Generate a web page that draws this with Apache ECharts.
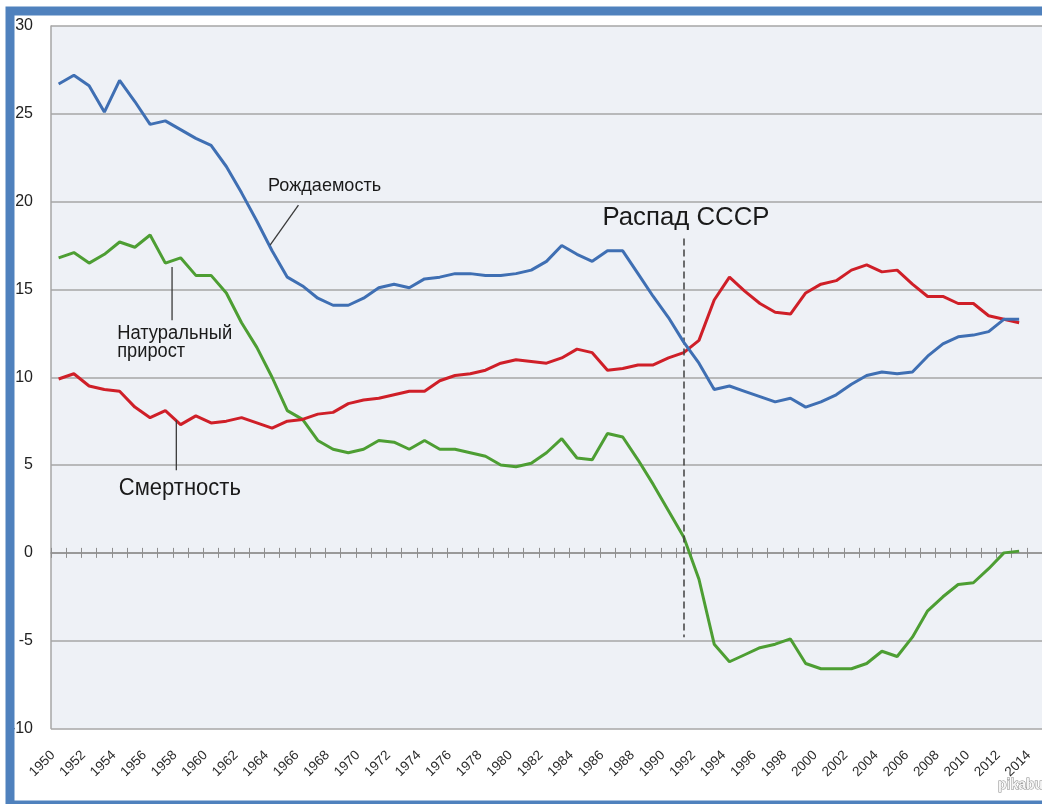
<!DOCTYPE html>
<html><head><meta charset="utf-8">
<script src="https://cdn.jsdelivr.net/npm/echarts@6/dist/echarts.min.js"></script>
<style>html,body{margin:0;padding:0;background:#fff;overflow:hidden}#main{width:1042px;height:804px}</style>
</head><body><div id="main"></div>
<script>
// ---- data ----
const years = ['1950','1951','1952','1953','1954','1955','1956','1957','1958','1959',
  '1960','1961','1962','1963','1964','1965','1966','1967','1968','1969',
  '1970','1971','1972','1973','1974','1975','1976','1977','1978','1979',
  '1980','1981','1982','1983','1984','1985','1986','1987','1988','1989',
  '1990','1991','1992','1993','1994','1995','1996','1997','1998','1999',
  '2000','2001','2002','2003','2004','2005','2006','2007','2008','2009',
  '2010','2011','2012','2013','2014'];
const birthRate = [26.7,27.2,26.6,25.1,26.9,25.7,24.4,24.6,24.1,23.6,
  23.2,22.0,20.5,18.9,17.2,15.7,15.2,14.5,14.1,14.1,
  14.5,15.1,15.3,15.1,15.6,15.7,15.9,15.9,15.8,15.8,
  15.9,16.1,16.6,17.5,17.0,16.6,17.2,17.2,15.9,14.6,
  13.4,12.0,10.8,9.3,9.5,9.2,8.9,8.6,8.8,8.3,
  8.6,9.0,9.6,10.1,10.3,10.2,10.3,11.2,11.9,12.3,
  12.4,12.6,13.3,13.3,null];
const deathRate = [9.9,10.2,9.5,9.3,9.2,8.3,7.7,8.1,7.3,7.8,
  7.4,7.5,7.7,7.4,7.1,7.5,7.6,7.9,8.0,8.5,
  8.7,8.8,9.0,9.2,9.2,9.8,10.1,10.2,10.4,10.8,
  11.0,10.9,10.8,11.1,11.6,11.4,10.4,10.5,10.7,10.7,
  11.1,11.4,12.1,14.4,15.7,14.9,14.2,13.7,13.6,14.8,
  15.3,15.5,16.1,16.4,16.0,16.1,15.3,14.6,14.6,14.2,
  14.2,13.5,13.3,13.1,null];
const naturalIncrease = [16.8,17.1,16.5,17.0,17.7,17.4,18.1,16.5,16.8,15.8,
  15.8,14.8,13.1,11.7,10.0,8.1,7.6,6.4,5.9,5.7,
  5.9,6.4,6.3,5.9,6.4,5.9,5.9,5.7,5.5,5.0,
  4.9,5.1,5.7,6.5,5.4,5.3,6.8,6.6,5.3,3.9,
  2.4,0.9,-1.5,-5.2,-6.2,-5.8,-5.4,-5.2,-4.9,-6.3,
  -6.6,-6.6,-6.6,-6.3,-5.6,-5.9,-4.8,-3.3,-2.5,-1.8,
  -1.7,-0.9,0.0,0.1,null];
const yMin = -10, yMax = 30, yStep = 5;
const collapseYear = '1991';
const collapseRange = [17.9, -4.8];

// ---- chart ----
const FONT = '"Liberation Sans", Arial, sans-serif';
const GRID_COLOR = '#a6a6a6';
const chart = echarts.init(document.getElementById('main'), null, {renderer: 'canvas'});

const option = {
  animation: false,
  backgroundColor: '#ffffff',
  grid: {left: 51, right: -2, top: 26, bottom: 75.5, show: true, backgroundColor: '#eef1f6', borderWidth: 0},
  xAxis: [
    {type: 'category', data: years, boundaryGap: true, position: 'bottom',
     axisLine: {show: false, onZero: false}, axisTick: {show: false},
     axisLabel: {interval: 1, rotate: 45, margin: 19, padding: [0, 8, 0, 0], fontSize: 13.5, color: '#2b2b2b', fontFamily: FONT},
     splitLine: {show: false}},
    {type: 'category', data: years, boundaryGap: true, position: 'bottom',
     axisLine: {show: true, onZero: true, onZeroAxisIndex: 0, lineStyle: {color: '#8e8e8e', width: 1.5}},
     axisTick: {show: true, inside: true, length: 5, interval: 0, lineStyle: {color: '#8e8e8e', width: 1}},
     axisLabel: {show: false}, splitLine: {show: false}},
    {type: 'category', data: years, boundaryGap: true, position: 'bottom',
     axisLine: {show: false, onZero: true, onZeroAxisIndex: 0},
     axisTick: {show: true, inside: false, length: 5, interval: 0, lineStyle: {color: '#8e8e8e', width: 1}},
     axisLabel: {show: false}, splitLine: {show: false}}
  ],
  yAxis: {
    type: 'value', min: yMin, max: yMax, interval: yStep,
    axisLine: {show: true, lineStyle: {color: GRID_COLOR, width: 1.5}},
    axisTick: {show: false},
    axisLabel: {margin: 18, fontSize: 16, color: '#222', fontFamily: FONT},
    splitLine: {show: true, lineStyle: {color: GRID_COLOR, width: 1.5}}
  },
  series: [
    {name: 'Натуральный прирост', type: 'line', data: naturalIncrease, symbol: 'none',
     lineStyle: {color: '#4d9e33', width: 3}, itemStyle: {color: '#4d9e33'}, z: 3,
     markLine: {silent: true, symbol: ['none', 'none'], label: {show: false},
       lineStyle: {type: [7, 4], color: '#404040', width: 1.5},
       data: [[{coord: [collapseYear, collapseRange[0]]}, {coord: [collapseYear, collapseRange[1]]}]]}},
    {name: 'Смертность', type: 'line', data: deathRate, symbol: 'none',
     lineStyle: {color: '#cf1f28', width: 3}, itemStyle: {color: '#cf1f28'}, z: 4},
    {name: 'Рождаемость', type: 'line', data: birthRate, symbol: 'none',
     lineStyle: {color: '#3f6fb3', width: 3}, itemStyle: {color: '#3f6fb3'}, z: 5}
  ]
};
chart.setOption(option);

// ---- annotations anchored in data space (fractional category index, value) ----
function px(fx, v) {
  const i0 = Math.floor(fx), t = fx - i0;
  const a = chart.convertToPixel({xAxisIndex: 0, yAxisIndex: 0}, [i0, v]);
  const b = chart.convertToPixel({xAxisIndex: 0, yAxisIndex: 0}, [i0 + 1, v]);
  return [a[0] + (b[0] - a[0]) * t, a[1]];
}
const measureCtx = document.createElement('canvas').getContext('2d');
function label(text, fx, v, size, targetW) {
  measureCtx.font = size + 'px ' + FONT;
  const w = measureCtx.measureText(text).width;
  const p = px(fx, v);
  return {type: 'text', x: p[0], y: p[1], scaleX: targetW / w, scaleY: 1, z: 50,
    style: {text: text, x: 0, y: 0, fontSize: size, fontFamily: FONT, fill: '#1a1a1a',
      align: 'left', verticalAlign: 'middle', textAlign: 'left', textVerticalAlign: 'middle'}};
}
function leader(f1, v1, f2, v2) {
  const a = px(f1, v1), b = px(f2, v2);
  return {type: 'line', z: 50, shape: {x1: a[0], y1: a[1], x2: b[0], y2: b[1]},
    style: {stroke: '#3a3a3a', lineWidth: 1.3}};
}
const graphics = [
  label('Рождаемость', 13.74, 20.88, 19, 113),
  leader(15.73, 19.8, 13.87, 17.52),
  label('Натуральный', 3.84, 12.48, 20, 115),
  label('прирост', 3.84, 11.46, 20, 68),
  leader(7.44, 16.28, 7.44, 13.25),
  label('Смертность', 3.95, 3.69, 24, 122),
  leader(7.72, 7.55, 7.72, 4.70),
  label('Распад СССР', 35.67, 19.08, 26, 167),
  // watermark
  {type: 'text', x: 998, y: 785, z: 60,
   style: {text: 'pikabu', fontSize: 14, fontWeight: 'bold', fontFamily: FONT, fill: '#f4f4f4', stroke: '#8a8a8a', lineWidth: 1,
     align: 'left', verticalAlign: 'middle', textAlign: 'left', textVerticalAlign: 'middle'}},
  // blue frame
  {type: 'rect', z: 100, silent: true, shape: {x: 10, y: 11, width: 1100, height: 794},
   style: {fill: 'none', stroke: '#4f81bd', lineWidth: 9}}
];
chart.setOption({graphic: graphics});
</script>
</body></html>
